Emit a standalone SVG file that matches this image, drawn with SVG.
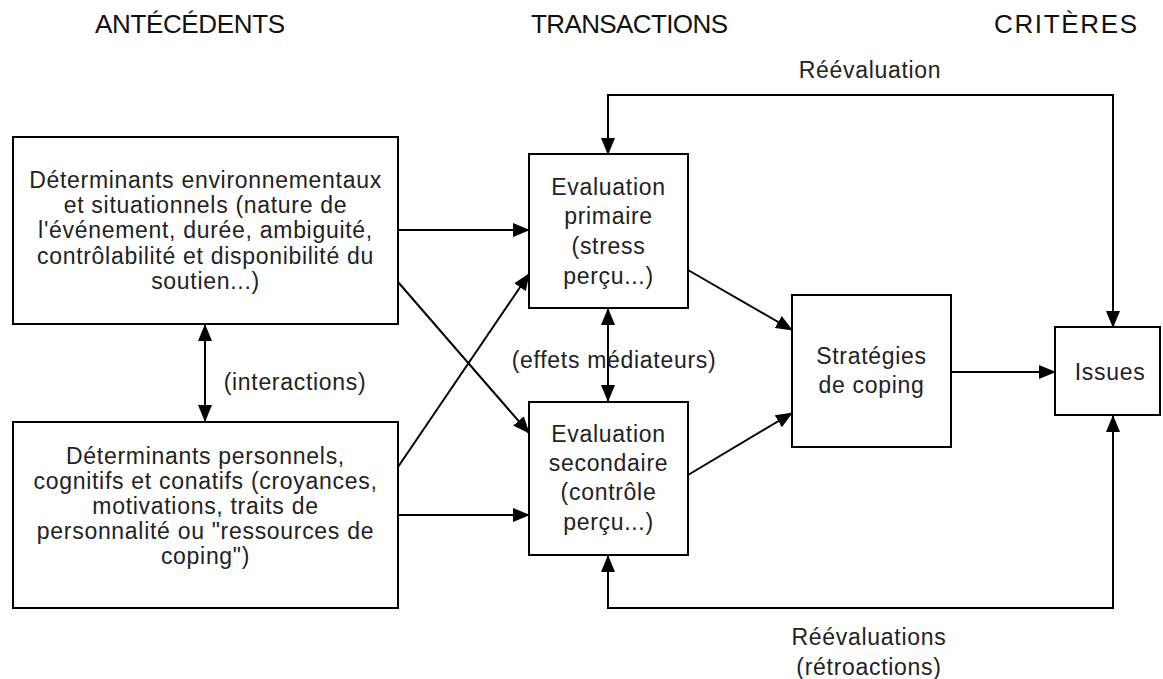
<svg xmlns="http://www.w3.org/2000/svg" width="1163" height="679" viewBox="0 0 1163 679">
<style>
.box{fill:#fff;stroke:#000;stroke-width:2}
.t{font-family:"Liberation Sans",Arial,sans-serif;font-size:23px;letter-spacing:0.7px;fill:#222;text-anchor:middle}
.h{font-family:"Liberation Sans",Arial,sans-serif;font-size:26px;fill:#111}
.c{fill:none;stroke:#000;stroke-width:2}
</style>
<defs>
<marker id="ah" markerUnits="userSpaceOnUse" markerWidth="17" markerHeight="14" refX="16" refY="7" orient="auto-start-reverse" viewBox="0 0 17 14">
<path d="M0,0 L17,7 L0,14 z" fill="#000"/>
</marker>
</defs>
<rect width="1163" height="679" fill="#fff"/>
<g id="headers">
<text class="h" x="95" y="33" textLength="190" lengthAdjust="spacing">ANTÉCÉDENTS</text>
<text class="h" x="531" y="33" textLength="197" lengthAdjust="spacing">TRANSACTIONS</text>
<text class="h" x="994" y="33" textLength="143" lengthAdjust="spacing">CRITÈRES</text>
</g>
<g id="connectors">
<path class="c" d="M398,230 L529,230" marker-end="url(#ah)"/>
<path class="c" d="M398,515 L529,515" marker-end="url(#ah)"/>
<path class="c" d="M398,282 L529,433" marker-end="url(#ah)"/>
<path class="c" d="M398,467 L529,274" marker-end="url(#ah)"/>
<path class="c" d="M205,325 L205,421" marker-start="url(#ah)" marker-end="url(#ah)"/>
<path class="c" d="M608,309 L608,401" marker-start="url(#ah)" marker-end="url(#ah)"/>
<path class="c" d="M688,270 L792,330" marker-end="url(#ah)"/>
<path class="c" d="M688,475 L792,413" marker-end="url(#ah)"/>
<path class="c" d="M951,372 L1055,372" marker-end="url(#ah)"/>
<path class="c" d="M608,154 L608,95 L1113,95 L1113,327" marker-start="url(#ah)" marker-end="url(#ah)"/>
<path class="c" d="M608,556 L608,608 L1113,608 L1113,416" marker-start="url(#ah)" marker-end="url(#ah)"/>
</g>
<g id="labels">
<text class="t" x="295" y="390">(interactions)</text>
<text class="t" x="614" y="368">(effets médiateurs)</text>
<text class="t" x="870" y="78">Réévaluation</text>
<text class="t" x="869" y="645">Réévaluations</text>
<text class="t" x="869" y="675">(rétroactions)</text>
</g>
<g id="det-env">
<rect class="box" x="13" y="137" width="385" height="187"/>
<text class="t" x="205.5" y="188">Déterminants environnementaux</text>
<text class="t" x="205.5" y="213">et situationnels (nature de</text>
<text class="t" x="205.5" y="238">l'événement, durée, ambiguité,</text>
<text class="t" x="205.5" y="264">contrôlabilité et disponibilité du</text>
<text class="t" x="205.5" y="289">soutien...)</text>
</g>
<g id="det-pers">
<rect class="box" x="13" y="422" width="385" height="186"/>
<text class="t" x="205.5" y="464">Déterminants personnels,</text>
<text class="t" x="205.5" y="489">cognitifs et conatifs (croyances,</text>
<text class="t" x="205.5" y="514">motivations, traits de</text>
<text class="t" x="205.5" y="539">personnalité ou "ressources de</text>
<text class="t" x="205.5" y="564">coping")</text>
</g>
<g id="eval-prim">
<rect class="box" x="529" y="154" width="159" height="154"/>
<text class="t" x="608.5" y="195">Evaluation</text>
<text class="t" x="608.5" y="224">primaire</text>
<text class="t" x="608.5" y="254">(stress</text>
<text class="t" x="608.5" y="284">perçu...)</text>
</g>
<g id="eval-sec">
<rect class="box" x="529" y="402" width="159" height="153"/>
<text class="t" x="608.5" y="442">Evaluation</text>
<text class="t" x="608.5" y="471">secondaire</text>
<text class="t" x="608.5" y="500">(contrôle</text>
<text class="t" x="608.5" y="530">perçu...)</text>
</g>
<g id="strategies">
<rect class="box" x="792" y="295" width="159" height="152"/>
<text class="t" x="871.5" y="364">Stratégies</text>
<text class="t" x="871.5" y="393">de coping</text>
</g>
<g id="issues">
<rect class="box" x="1055" y="327" width="105" height="88"/>
<text class="t" x="1110" y="380">Issues</text>
</g>
</svg>
